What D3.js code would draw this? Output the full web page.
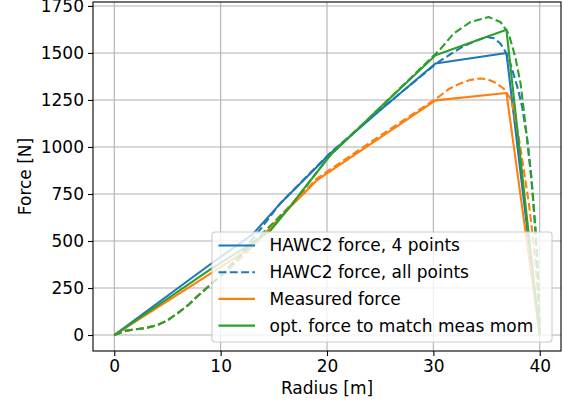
<!DOCTYPE html>
<html>
<head>
<meta charset="utf-8">
<script src="https://cdn.jsdelivr.net/npm/d3@7"></script>
<style>
  body { margin: 0; background: #fff; }
  text { font-family: "DejaVu Sans", sans-serif; }
</style>
</head>
<body>
<div id="chart"></div>
<script>
var width = 563;
var height = 404;

// radius [m] and force [N]
var blue4R = [0, 9, 13, 15.6, 18.4, 20.3, 25, 30.2, 36.87, 40];
var blue4F = [0, 375, 535, 699, 858, 965, 1195, 1444, 1500, 0];

var blueAllR = [0, 1, 2, 3, 4, 5, 6, 7, 8, 9, 10, 11, 12, 13, 13.7, 15.6, 18.4, 20.3, 25, 30.2, 30.7, 31.8, 32.8, 34, 35, 35.7, 36.3, 36.8, 37.24, 37.9, 38.35, 38.8, 39.2, 39.6, 39.85, 40];
var blueAllF = [0, 22, 30, 38, 52, 78, 118, 162, 215, 266, 318, 375, 440, 510, 560, 700, 860, 968, 1198, 1440, 1460, 1500, 1535, 1565, 1585, 1578, 1550, 1505, 1444, 1319, 1213, 1050, 850, 557, 300, 20];

var measR = [0, 9, 13, 15.6, 17.5, 19.05, 20, 25, 30.2, 36.87, 40];
var measF = [0, 325, 470, 628, 734, 823, 859, 1050, 1248, 1287, 0];

var measAllR = [0, 1, 2, 3, 4, 5, 6, 7, 8, 9, 10, 11, 12, 13, 14, 15.6, 17.5, 19.05, 25, 30.2, 30.7, 31.5, 32.5, 33.5, 34.4, 35.1, 35.7, 36.6, 37.24, 37.55, 38, 38.5, 39, 39.28, 39.6, 39.85, 40];
var measAllF = [0, 22, 30, 38, 52, 78, 118, 162, 215, 266, 312, 362, 415, 470, 530, 635, 742, 832, 1060, 1255, 1275, 1310, 1337, 1357, 1364, 1360, 1346, 1311, 1258, 1195, 1060, 880, 690, 557, 380, 200, 20];

var optR = [0, 9, 13, 14.7, 16.5, 20.3, 25, 30.2, 36.87, 40];
var optF = [0, 348, 490, 557, 681, 956, 1210, 1488, 1624, 0];

var optAllR = [0, 1, 2, 3, 4, 5, 6, 7, 8, 9, 10, 11, 12, 13, 14, 16.5, 20.3, 25, 30.2, 30.7, 31.9, 33.5, 35.2, 36.3, 37.08, 37.7, 38.2, 38.5, 38.9, 39.3, 39.6, 39.85, 40];
var optAllF = [0, 22, 30, 38, 52, 78, 118, 162, 215, 266, 315, 370, 430, 490, 545, 681, 956, 1210, 1495, 1523, 1603, 1665, 1691, 1665, 1603, 1479, 1337, 1195, 1000, 780, 557, 300, 20];

var xTicks = [0, 10, 20, 30, 40];
var yTicks = [0, 250, 500, 750, 1000, 1250, 1500, 1750];

var legendLabels = ["HAWC2 force, 4 points", "HAWC2 force, all points", "Measured force", "opt. force to match meas mom"];

var blue = "#1f77b4", orange = "#ff7f0e", green = "#2ca02c";

var svg = d3.select("#chart").append("svg")
    .attr("width", width)
    .attr("height", height);

var margin = {top: 2, right: 2, bottom: 53, left: 93};
var plotW = width - margin.left - margin.right,
    plotH = height - margin.top - margin.bottom;

var x = d3.scaleLinear().domain([-2, 42]).range([0, plotW]);
var y = d3.scaleLinear().domain([-85, 1771]).range([plotH, 0]);

var g = svg.append("g").attr("transform", "translate(" + margin.left + "," + margin.top + ")");

// grid
g.append("g").selectAll("line").data(xTicks).enter().append("line")
    .attr("x1", function(d) { return x(d); })
    .attr("x2", function(d) { return x(d); })
    .attr("y1", 0).attr("y2", plotH)
    .attr("stroke", "#b0b0b0").attr("stroke-width", 1.1);
g.append("g").selectAll("line").data(yTicks).enter().append("line")
    .attr("y1", function(d) { return y(d); })
    .attr("y2", function(d) { return y(d); })
    .attr("x1", 0).attr("x2", plotW)
    .attr("stroke", "#b0b0b0").attr("stroke-width", 1.1);

function pairs(rs, fs) {
  return rs.map(function(r, i) { return [r, fs[i]]; });
}

var line = d3.line()
    .x(function(d) { return x(d[0]); })
    .y(function(d) { return y(d[1]); });

var series = [
  {data: pairs(blue4R, blue4F), color: blue, dash: null},
  {data: pairs(blueAllR, blueAllF), color: blue, dash: "7.9,3.4"},
  {data: pairs(measR, measF), color: orange, dash: null},
  {data: pairs(measAllR, measAllF), color: orange, dash: "7.9,3.4"},
  {data: pairs(optR, optF), color: green, dash: null},
  {data: pairs(optAllR, optAllF), color: green, dash: "7.9,3.4"}
];

var clip = svg.append("clipPath").attr("id", "plotclip")
  .append("rect").attr("width", plotW).attr("height", plotH);

g.append("g").attr("clip-path", "url(#plotclip)")
  .selectAll("path").data(series).enter().append("path")
    .attr("d", function(s) { return line(s.data); })
    .attr("fill", "none")
    .attr("stroke", function(s) { return s.color; })
    .attr("stroke-width", 2.1)
    .attr("stroke-linejoin", "round")
    .attr("stroke-dasharray", function(s) { return s.dash; });

// axes
var xAxis = g.append("g")
    .attr("transform", "translate(0," + plotH + ")")
    .call(d3.axisBottom(x).tickValues(xTicks).tickSize(5).tickPadding(4).tickFormat(d3.format("d")));
var yAxis = g.append("g")
    .call(d3.axisLeft(y).tickValues(yTicks).tickSize(5).tickPadding(4).tickFormat(d3.format("d")));
[xAxis, yAxis].forEach(function(a) {
  a.select(".domain").remove();
  a.selectAll("line").attr("stroke", "#000").attr("stroke-width", 1.1);
  a.selectAll("text").attr("font-size", 17).attr("fill", "#000")
    .attr("font-family", "DejaVu Sans");
});

g.append("rect")
    .attr("width", plotW).attr("height", plotH)
    .attr("fill", "none").attr("stroke", "#000").attr("stroke-width", 1.1);

// labels
svg.append("text")
  .text("Radius [m]")
  .attr("x", margin.left + plotW / 2)
  .attr("y", 394)
  .attr("text-anchor", "middle")
  .attr("font-size", 17);

svg.append("text")
  .text("Force [N]")
  .attr("transform", "translate(31," + (margin.top + plotH / 2) + ") rotate(-90)")
  .attr("text-anchor", "middle")
  .attr("font-size", 17);

// legend
var leg = svg.append("g").attr("transform", "translate(212,232)");
leg.append("rect")
    .attr("width", 340).attr("height", 110)
    .attr("rx", 3)
    .attr("fill", "#fff").attr("fill-opacity", 0.8)
    .attr("stroke", "#cccccc").attr("stroke-width", 1.1);

var legendStyles = [
  {color: blue, dash: null},
  {color: blue, dash: "7.9,3.4"},
  {color: orange, dash: null},
  {color: green, dash: null}
];

legendLabels.forEach(function(lab, i) {
  var yy = 13.5 + i * 26.7;
  leg.append("line")
    .attr("x1", 6.5).attr("x2", 43)
    .attr("y1", yy).attr("y2", yy)
    .attr("stroke", legendStyles[i].color)
    .attr("stroke-width", 2.1)
    .attr("stroke-dasharray", legendStyles[i].dash);
  leg.append("text")
    .text(lab)
    .attr("x", 57.5)
    .attr("y", yy)
    .attr("dy", "0.35em")
    .attr("font-size", 17);
});
</script>
</body>
</html>
